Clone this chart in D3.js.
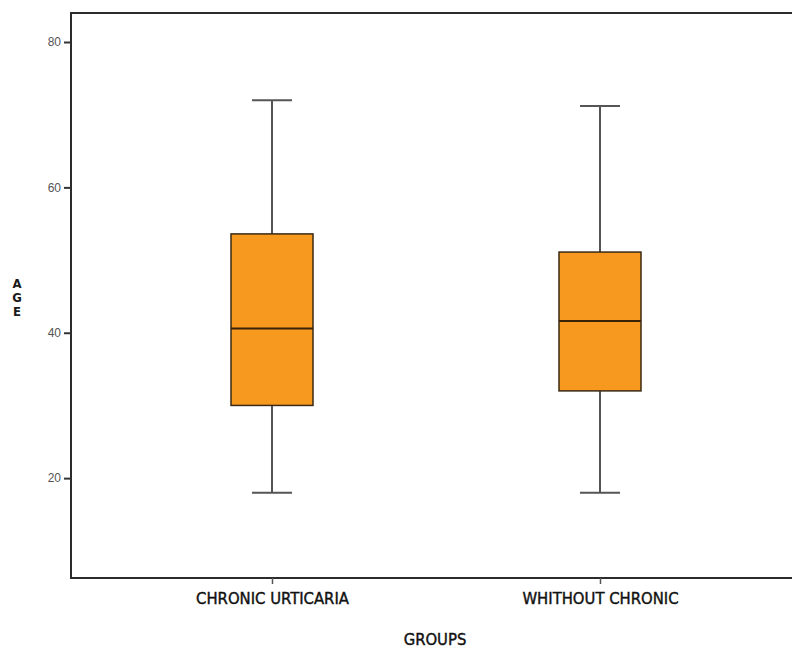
<!DOCTYPE html>
<html>
<head>
<meta charset="utf-8">
<script src="https://cdn.jsdelivr.net/npm/d3@7"></script>
<style>
  body { margin: 0; background: #fff; }
  svg { display: block; }
  text { font-family: "Liberation Sans Narrow", "DejaVu Sans Condensed", "Liberation Sans", sans-serif; }
</style>
</head>
<body>
<svg id="chart" width="792" height="648"></svg>
<script>
// Age distribution by group (box-and-whisker summaries)
const groups = ["CHRONIC URTICARIA", "WHITHOUT CHRONIC"];
const whiskerLow = [18, 18];
const quartile1 = [30, 32];
const medians = [40.6, 41.6];
const quartile3 = [53.6, 51.1];
const whiskerHigh = [72, 71.2];
const yTicks = [20, 40, 60, 80];

const svg = d3.select("#chart");
const plot = { left: 71, top: 13, right: 800, bottom: 578 };

const y = d3.scaleLinear().domain([0, 80]).range([623.5, 42]);
const x = d3.scalePoint().domain(groups).range([272, 600]);

const boxW = 82, capW = 40;
const data = groups.map((g, i) => ({
  g, lo: whiskerLow[i], q1: quartile1[i], med: medians[i], q3: quartile3[i], hi: whiskerHigh[i]
}));

// frame
svg.append("rect")
  .attr("x", plot.left).attr("y", plot.top)
  .attr("width", plot.right - plot.left).attr("height", plot.bottom - plot.top)
  .attr("fill", "none").attr("stroke", "#2b2b2b").attr("stroke-width", 2);

// y axis
const yAxis = d3.axisLeft(y).tickValues(yTicks).tickSize(7).tickPadding(3);
const ya = svg.append("g").attr("transform", `translate(${plot.left},0)`).call(yAxis);
ya.select(".domain").remove();
ya.selectAll("line").attr("stroke", "#333").attr("stroke-width", 2);
ya.selectAll("text").attr("font-size", 12).attr("fill", "#555")
  .style("font-family", "'Liberation Sans', sans-serif");

// x axis
const xAxis = d3.axisBottom(x).tickSize(6).tickPadding(6);
const xa = svg.append("g").attr("transform", `translate(0,${plot.bottom})`).call(xAxis);
xa.select(".domain").remove();
xa.selectAll("line").attr("stroke", "#555").attr("stroke-width", 1.5);
xa.selectAll("text").attr("font-size", 16.5).attr("fill", "#111")
  .attr("stroke", "#111").attr("stroke-width", 0.4).attr("dy", "0.85em");

// axis titles
svg.append("text").attr("x", 435).attr("y", 645).attr("text-anchor", "middle")
  .attr("font-size", 16.5).attr("fill", "#111").attr("stroke", "#111").attr("stroke-width", 0.4)
  .text("GROUPS");
const ageTitle = svg.append("text").attr("x", 17).attr("y", 288).attr("text-anchor", "middle")
  .attr("font-size", 13).attr("font-weight", "bold").attr("fill", "#1a1a1a");
"AGE".split("").forEach((c, i) => ageTitle.append("tspan").attr("x", 17).attr("dy", i ? 14 : 0).text(c));

// boxes
const b = svg.append("g").selectAll("g").data(data).join("g");
b.append("line")
  .attr("x1", d => x(d.g)).attr("x2", d => x(d.g))
  .attr("y1", d => y(d.hi)).attr("y2", d => y(d.q3))
  .attr("stroke", "#555").attr("stroke-width", 2);
b.append("line")
  .attr("x1", d => x(d.g)).attr("x2", d => x(d.g))
  .attr("y1", d => y(d.q1)).attr("y2", d => y(d.lo))
  .attr("stroke", "#555").attr("stroke-width", 2);
b.selectAll(".cap").data(d => [d.lo, d.hi].map(v => ({ g: d.g, v }))).join("line")
  .attr("class", "cap")
  .attr("x1", d => x(d.g) - capW / 2).attr("x2", d => x(d.g) + capW / 2)
  .attr("y1", d => y(d.v)).attr("y2", d => y(d.v))
  .attr("stroke", "#555").attr("stroke-width", 2);
b.append("rect")
  .attr("x", d => x(d.g) - boxW / 2).attr("width", boxW)
  .attr("y", d => y(d.q3)).attr("height", d => y(d.q1) - y(d.q3))
  .attr("fill", "#F7991F").attr("stroke", "#3a2a15").attr("stroke-width", 1.5);
b.append("line")
  .attr("x1", d => x(d.g) - boxW / 2).attr("x2", d => x(d.g) + boxW / 2)
  .attr("y1", d => y(d.med)).attr("y2", d => y(d.med))
  .attr("stroke", "#3a2208").attr("stroke-width", 2);
</script>
</body>
</html>
